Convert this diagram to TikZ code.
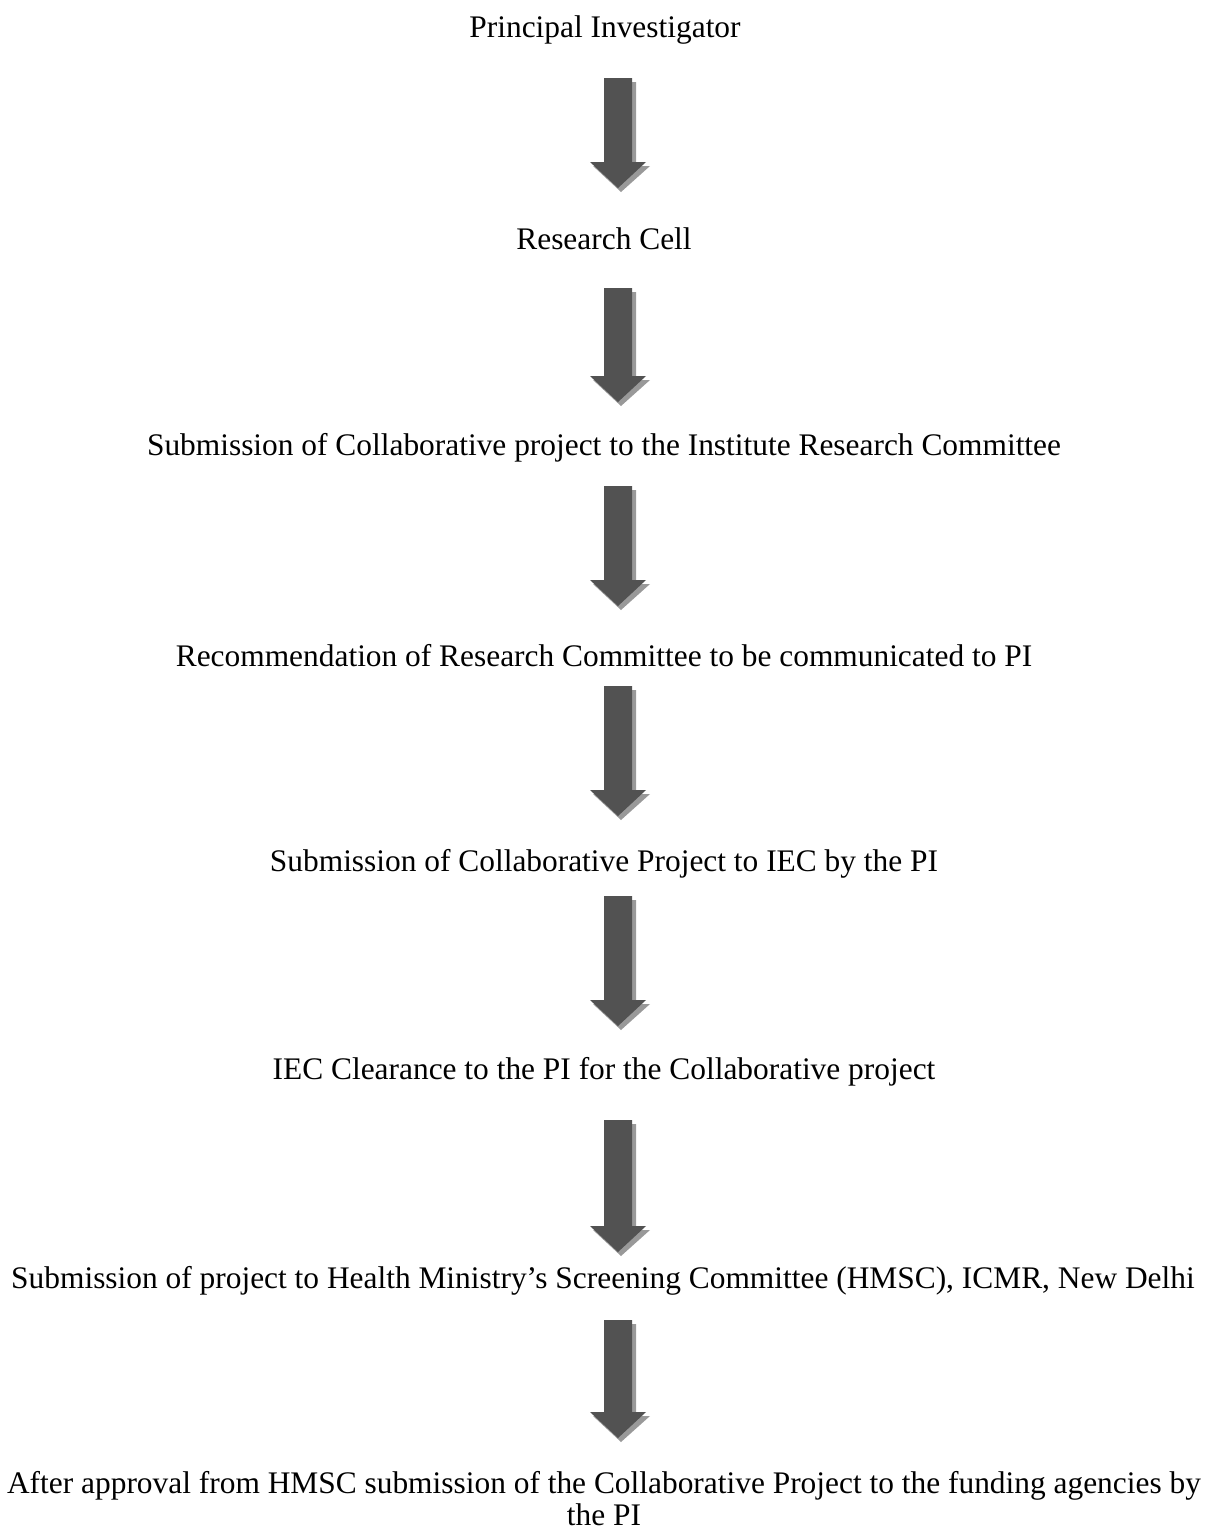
\documentclass[tikz,border=0pt]{standalone}
\usepackage{fontspec}
\setmainfont{Liberation Serif}
\begin{document}
\begin{tikzpicture}[x=0.5pt,y=-0.5pt,
  lbl/.style={inner sep=0pt, font=\fontsize{15.7}{16}\selectfont, anchor=center},
  arrbody/.style={fill=black!68},
  arrshadow/.style={fill=black!40}]
\useasboundingbox (0,0) rectangle (1205,1532);
\fill[white] (0,0) rectangle (1205,1532);
\node[lbl] (n1) at (605,30) {Principal Investigator};
\node[lbl] (n2) at (604,239) {Research Cell};
\node[lbl] (n3) at (604,448) {Submission of Collaborative project to the Institute Research Committee};
\node[lbl] (n4) at (604,656) {Recommendation of Research Committee to be communicated to PI};
\node[lbl] (n5) at (604,864) {Submission of Collaborative Project to IEC by the PI};
\node[lbl] (n6) at (604,1072) {IEC Clearance to the PI for the Collaborative project};
\node[lbl] (n7) at (603,1281) {Submission of project to Health Ministry’s Screening Committee (HMSC), ICMR, New Delhi};
\node[lbl, align=center] (n8) at (604,1499) {After approval from HMSC submission of the Collaborative Project to the funding agencies by\\ the PI};
\newcommand{\blockarrow}[2]{%
  % #1 top y, #2 tip y
  \pgfmathsetmacro{\hb}{#2-26}
  \fill[arrshadow] (608,#1+4) -- (636,#1+4) -- (636,\hb+4) -- (650,\hb+4) -- (621,#2+4) -- (593,\hb+4) -- (608,\hb+4) -- cycle;
  \fill[arrbody] (604,#1) -- (632,#1) -- (632,\hb) -- (646,\hb) -- (618,#2) -- (590,\hb) -- (604,\hb) -- cycle;
}
\blockarrow{78}{188}
\blockarrow{288}{402}
\blockarrow{486}{606}
\blockarrow{686}{816}
\blockarrow{896}{1026}
\blockarrow{1120}{1252}
\blockarrow{1320}{1438}
\end{tikzpicture}
\end{document}
